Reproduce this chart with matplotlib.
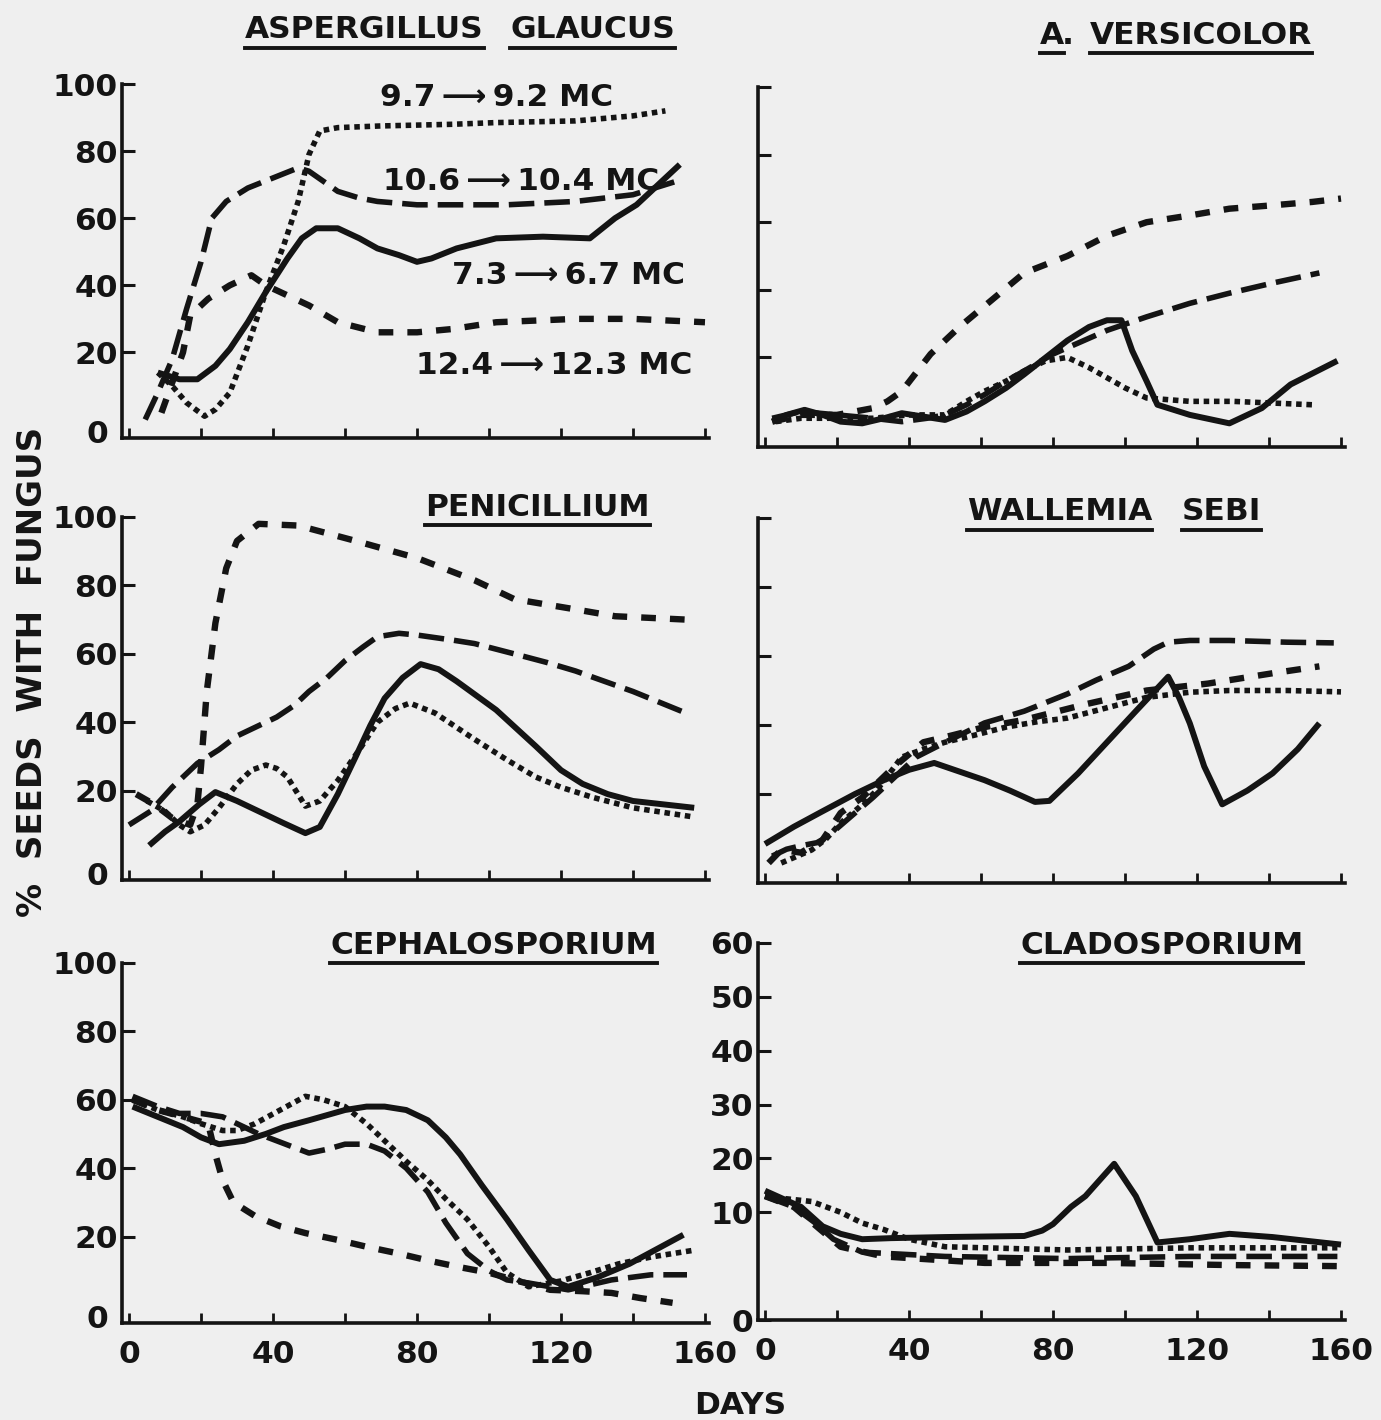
import numpy as np
import matplotlib
matplotlib.use("Agg")
import matplotlib.pyplot as plt
from matplotlib.lines import Line2D

W, H = 1381, 1420
BG = "#efefef"
INK = "#141414"
FS = 22.5

plt.rcParams.update({
    "font.family": "DejaVu Sans",
    "font.weight": "bold",
    "font.size": FS,
    "text.color": INK,
    "axes.edgecolor": INK,
    "xtick.color": INK,
    "ytick.color": INK,
    "figure.facecolor": BG,
    "axes.facecolor": BG,
})

# ---------------- data (days, % seeds with fungus) ----------------
# Aspergillus glaucus
gla_solid_day = [8, 14, 19, 24, 28, 33, 38, 44, 48, 52, 58, 64, 69, 75, 80, 84, 91, 102, 115, 128, 135, 141, 146, 153]
gla_solid_pct = [14, 12, 12, 16, 21, 29, 38, 48, 54, 57, 57, 54, 51, 49, 47, 48, 51, 54, 54.5, 54, 60, 64, 69, 76]
gla_long_day = [4.5, 8, 12, 16, 20, 23, 27, 33, 40, 47, 50, 54, 58, 64, 69, 80, 91, 105, 124, 140, 152]
gla_long_pct = [0, 8, 18, 33, 47, 60, 65, 69, 72, 75, 74, 71, 68, 66, 65, 64, 64, 64, 65, 67, 71]
gla_dot_day = [8, 12, 16, 21, 24, 28, 33, 38, 43, 47, 50, 53, 58, 70, 90, 102, 124, 140, 149]
gla_dot_pct = [14, 10, 5, 1, 3, 8, 22, 38, 52, 65, 79, 86, 87, 87.5, 88, 88.5, 89, 90.5, 92]
gla_short_day = [9, 12, 15, 17, 22, 28, 34, 38, 44, 50, 58, 69, 80, 90, 102, 124, 140, 160]
gla_short_pct = [2, 11, 20, 31, 36, 40, 43, 40, 37, 34, 29, 26, 26, 27, 29, 30, 30, 29]

# A. versicolor
ver_solid_day = [2, 6, 11, 16, 21, 27, 33, 38, 44, 50, 56, 61, 67, 72, 78, 84, 90, 95, 99, 102, 106, 109, 118, 129, 138, 146, 159]
ver_solid_pct = [1, 3, 4.5, 3, 1, 0.5, 2, 3.5, 2.5, 1.5, 4, 7, 11, 15, 20, 25, 29, 31, 31, 22, 13, 6, 3, 0.5, 5, 12, 19]
ver_long_day = [2, 10, 20, 30, 38, 45, 50, 56, 61, 67, 72, 80, 95, 106, 118, 129, 141, 154]
ver_long_pct = [2, 4, 3, 2, 1, 2, 3, 6, 9, 13, 16, 21, 28, 32, 36, 39, 42, 45]
ver_short_day = [2, 10, 20, 30, 34, 38, 46, 54, 63, 72, 84, 95, 106, 118, 129, 141, 152, 160]
ver_short_pct = [1, 3, 3, 5, 7, 10, 21, 29, 37, 45, 50, 56, 60, 62, 64, 65, 66, 67]
ver_dot_day = [3, 10, 20, 30, 40, 50, 56, 61, 67, 72, 78, 84, 90, 95, 100, 106, 118, 130, 141, 152]
ver_dot_pct = [1, 2, 2, 2, 3, 3, 7, 10, 13, 16, 19, 20, 17, 14, 11, 8, 7, 7, 6.5, 6]

# Penicillium
pen_solid_day = [5.6, 10, 14, 19.5, 24, 30, 36, 43, 49, 53, 58, 63, 67, 71, 76, 81, 86, 91, 102, 113, 120, 126, 133, 140, 157]
pen_solid_pct = [4, 8, 11, 16, 19.6, 17, 14, 10.5, 7.6, 9.4, 19, 30, 39, 47, 53, 57, 55.5, 52, 43.6, 33, 26, 22, 19, 17, 15]
pen_long_day = [0, 6, 12, 19, 25, 30, 36, 41, 46, 50, 55, 60, 65, 69, 75, 80, 90, 96, 107, 116, 124, 132, 140, 154]
pen_long_pct = [10, 14, 21, 28, 32, 36, 39, 41.5, 45, 49, 53, 58, 62, 65, 66, 65.5, 64, 63, 60, 57.5, 55, 52, 49, 43]
pen_short_day = [2, 7, 12, 17, 19, 20, 21.6, 24, 27, 30, 36, 47, 63, 80, 96, 107, 124, 135, 155]
pen_short_pct = [19, 16, 12, 10, 16, 27, 49, 69, 85, 93, 98, 97.5, 93, 88, 81.5, 76, 73, 71, 70]
pen_dot_day = [5, 10, 14, 17, 21, 25, 30, 34, 38, 41, 44, 49, 53, 58, 64, 69, 74, 78, 85, 96, 105, 113, 120, 129, 140, 157]
pen_dot_pct = [17, 14, 10, 8, 10, 15, 22, 26, 27.5, 26.5, 24, 15.5, 17, 23, 32, 40, 44, 45.6, 42.7, 35, 29, 24, 21, 18, 15, 12.3]

# Wallemia sebi
wal_solid_day = [0, 8, 16, 25, 33, 40, 47, 54, 61, 68, 75, 79, 87, 95, 103, 112, 115, 118, 122, 127, 134, 141, 148, 154]
wal_solid_pct = [5.5, 10.5, 15, 20, 24, 27, 29, 26.5, 24, 21, 17.7, 18, 26, 35, 44, 54, 48, 40.5, 28, 17, 21, 26, 33, 40.5]
wal_long_day = [2, 6, 10, 15, 20, 30, 42, 52, 61, 72, 84, 92, 101, 108, 112, 118, 129, 145, 158]
wal_long_pct = [2, 4, 5, 6, 10, 19, 30.7, 36, 40.6, 44, 49, 53, 57, 62, 64, 64.5, 64.5, 64, 63.8]
wal_short_day = [1, 4.5, 10, 16, 21, 27, 36, 44, 52, 61, 72, 89, 106, 123, 141, 154]
wal_short_pct = [0, 3.8, 3, 6.7, 14.5, 19, 28, 35, 37, 39.4, 41.5, 46, 50, 52, 55, 57]
wal_dot_day = [4.5, 9, 13, 17, 21, 26, 31, 38, 44, 50, 58, 67, 76, 84, 95, 106, 118, 129, 145, 160]
wal_dot_pct = [0, 2, 3.8, 7, 11.6, 16, 21, 30.7, 33, 35, 37, 39.4, 41, 42, 45, 48, 49.5, 50, 50, 49.6]

# Cephalosporium
cep_solid_day = [1, 8, 15, 20, 25, 32, 38, 43, 50, 60, 66, 71, 77, 83, 88, 92, 98, 105, 111, 117, 122, 130, 139, 154]
cep_solid_pct = [58, 55, 52, 49, 47, 48, 50, 52, 54, 57, 58, 58, 57, 54, 49, 44, 35, 25, 16, 7.3, 5.3, 8, 12, 20.5]
cep_dot_day = [1, 8, 15, 20, 26, 30, 35, 42, 49, 54, 60, 66, 71, 77, 83, 88, 94, 100, 105, 111, 120, 128, 136, 145, 157]
cep_dot_pct = [60, 57, 55, 53, 51, 51, 53, 57, 61, 60, 58, 53, 48, 42, 36.5, 31, 25, 17, 9.4, 5.3, 7, 9.4, 12, 14, 16]
cep_long_day = [1, 8, 14, 20, 26, 32, 36, 41, 46, 50, 55, 60, 66, 71, 77, 83, 88, 94, 100, 105, 111, 122, 134, 145, 155]
cep_long_pct = [61, 58, 56, 56, 55, 52, 50, 48, 46, 44.4, 45.5, 47, 47, 45, 40, 33, 24, 15, 10, 7.3, 6.4, 4.4, 7.3, 8.8, 8.8]
cep_short_day = [1, 8, 15, 22, 24, 26, 29, 35, 42, 49, 58, 66, 75, 83, 92, 100, 108, 117, 126, 134, 142, 151]
cep_short_pct = [60, 57, 55, 53, 44, 36.5, 30, 26, 23, 21, 19, 17, 15, 13, 11, 9.4, 7, 4.4, 4, 3.5, 2, 0.6]

# Cladosporium
cla_solid_day = [0, 5, 10, 16, 21, 27, 35, 50, 72, 77, 80, 85, 89, 93, 97, 103, 109, 118, 129, 141, 160]
cla_solid_pct = [14, 12.5, 11, 8.7, 8, 7.5, 7.6, 7.7, 7.8, 8.3, 8.9, 11, 13, 16, 19, 13, 7.2, 7.5, 8, 7.7, 7]
cla_dot_day = [0, 6, 13, 21, 27, 33, 40, 50, 84, 118, 141, 159]
cla_dot_pct = [13, 12.5, 12, 10, 9, 8.4, 7.5, 6.8, 6.5, 6.7, 6.7, 6.7]
cla_long_day = [0, 8, 14, 19, 27, 50, 84, 118, 159]
cla_long_pct = [13, 11, 9, 7.5, 6.3, 5.9, 5.7, 5.9, 5.9]
cla_short_day = [0, 8, 15, 21, 33, 61, 95, 129, 160]
cla_short_pct = [13, 11, 8.5, 6.8, 5.9, 5.3, 5.3, 5.1, 5]

pct_ticks = [20, 40, 60, 80, 100]
cla_ticks = [0, 10, 20, 30, 40, 50, 60]
day_ticks = list(range(0, 161, 20))

# ---------------- styles ----------------
SOLID = dict(linestyle="-", lw=4.3, solid_capstyle="butt")
LONG = dict(linestyle=(0, (4.6, 1.8)), lw=4.0, dash_capstyle="butt")
SHORT = dict(linestyle=(0, (2.3, 2.2)), lw=4.6, dash_capstyle="butt")
DOT = dict(linestyle=(0, (1.0, 0.85)), lw=4.0, dash_capstyle="butt")

fig = plt.figure(figsize=(W / 100, H / 100), dpi=100)


def add_ax(l, t, r, b):
    return fig.add_axes([l / W, 1 - b / H, (r - l) / W, (b - t) / H])


def style_ax(ax, ybot, ylabels, xlabels, yticks=pct_ticks, ytop=100):
    ax.set_xlim(-2, 161)
    ax.set_ylim(ybot, ytop)
    for s in ("top", "right"):
        ax.spines[s].set_visible(False)
    for s in ("left", "bottom"):
        ax.spines[s].set_linewidth(2.6)
    ax.set_xticks(day_ticks)
    ax.set_xticklabels([str(d) if (xlabels and d % 40 == 0) else "" for d in day_ticks])
    ax.set_yticks(yticks)
    if ylabels:
        ax.set_yticklabels([str(v) for v in yticks])
    else:
        ax.set_yticklabels([])
    ax.tick_params(axis="y", direction="in", length=9, width=2.2, labelsize=FS, pad=3)
    ax.tick_params(axis="x", direction="in", length=7, width=2.0, labelsize=FS, pad=12)


def draw(ax, series):
    for d, p, st in series:
        ax.plot(d, p, color=INK, **st, clip_on=False)


# Aspergillus glaucus
ax1 = add_ax(121.8, 84, 708.6, 438)
style_ax(ax1, -5.5, True, False)
draw(ax1, [(gla_short_day, gla_short_pct, SHORT), (gla_dot_day, gla_dot_pct, DOT),
           (gla_long_day, gla_long_pct, LONG), (gla_solid_day, gla_solid_pct, SOLID)])
ARW = "\u2009\u27f6\u2009"
ax1.text(102, 96, "9.7" + ARW + "9.2 MC", ha="center", va="center", fontsize=22.5)
ax1.text(109, 71, "10.6" + ARW + "10.4 MC", ha="center", va="center", fontsize=22.5)
ax1.text(122, 43, "7.3" + ARW + "6.7 MC", ha="center", va="center", fontsize=22.5)
ax1.text(118, 16, "12.4" + ARW + "12.3 MC", ha="center", va="center", fontsize=22.5)

# A. versicolor
ax2 = add_ax(757.8, 87, 1344.6, 447)
style_ax(ax2, -6.5, False, False)
draw(ax2, [(ver_short_day, ver_short_pct, SHORT), (ver_long_day, ver_long_pct, LONG),
           (ver_dot_day, ver_dot_pct, DOT), (ver_solid_day, ver_solid_pct, SOLID)])

# Penicillium
ax3 = add_ax(121.8, 517, 708.6, 880)
style_ax(ax3, -6.1, True, False)
draw(ax3, [(pen_short_day, pen_short_pct, SHORT), (pen_long_day, pen_long_pct, LONG),
           (pen_dot_day, pen_dot_pct, DOT), (pen_solid_day, pen_solid_pct, SOLID)])

# Wallemia sebi
ax4 = add_ax(757.8, 518, 1344.6, 883)
style_ax(ax4, -5.8, False, False)
draw(ax4, [(wal_long_day, wal_long_pct, LONG), (wal_short_day, wal_short_pct, SHORT),
           (wal_dot_day, wal_dot_pct, DOT), (wal_solid_day, wal_solid_pct, SOLID)])

# Cephalosporium
ax5 = add_ax(121.8, 963, 708.6, 1323)
style_ax(ax5, -5.3, True, True)
draw(ax5, [(cep_short_day, cep_short_pct, SHORT), (cep_long_day, cep_long_pct, LONG),
           (cep_dot_day, cep_dot_pct, DOT), (cep_solid_day, cep_solid_pct, SOLID)])

# zero label sits on the baseline of the 0-100 panels
for ax, yb in ((ax1, -5.5), (ax3, -6.1), (ax5, -5.3)):
    ax.set_yticks([yb + 2], labels=["0"], minor=True)
    ax.tick_params(axis="y", which="minor", length=0, labelsize=FS, pad=10)

# Cladosporium: broken scale, 0-10 stretched
def fwd(v):
    return np.interp(v, [0, 10, 60], [0, 20, 70])


def inv(p):
    return np.interp(p, [0, 20, 70], [0, 10, 60])


ax6 = add_ax(757.8, 943, 1344.6, 1320)
ax6.set_yscale("function", functions=(fwd, inv))
style_ax(ax6, 0, True, True, yticks=cla_ticks, ytop=60)
ax6.yaxis.set_minor_locator(matplotlib.ticker.NullLocator())
draw(ax6, [(cla_short_day, cla_short_pct, SHORT), (cla_long_day, cla_long_pct, LONG),
           (cla_dot_day, cla_dot_pct, DOT), (cla_solid_day, cla_solid_pct, SOLID)])

# ---------------- titles with underlines ----------------
titles = [
    (245, 30, "ASPERGILLUS", True), (510, 30, "GLAUCUS", True),
    (1040, 35, "A", True), (1062, 35, ".", False), (1090, 35, "VERSICOLOR", True),
    (425, 507, "PENICILLIUM", True),
    (967, 512, "WALLEMIA", True), (1182, 512, "SEBI", True),
    (330, 945, "CEPHALOSPORIUM", True),
    (1020, 945, "CLADOSPORIUM", True),
]
title_texts = []
for x, y, s, u in titles:
    t = fig.text(x / W, 1 - y / H, s, ha="left", va="center", fontsize=FS)
    title_texts.append((t, u))

fig.text(33 / W, 1 - 672 / H, "%  SEEDS  WITH  FUNGUS", rotation=90,
         ha="center", va="center", fontsize=24.5)
fig.text(740 / W, 1 - 1405 / H, "DAYS", ha="center", va="center", fontsize=FS)

fig.canvas.draw()
for t, u in title_texts:
    if not u:
        continue
    bb = t.get_window_extent()
    yline = (bb.y0 - 3) / H
    fig.add_artist(Line2D([bb.x0 / W, bb.x1 / W], [yline, yline], color=INK, lw=2.8,
                          transform=fig.transFigure))

fig.savefig("out.png", dpi=100, facecolor=BG)
